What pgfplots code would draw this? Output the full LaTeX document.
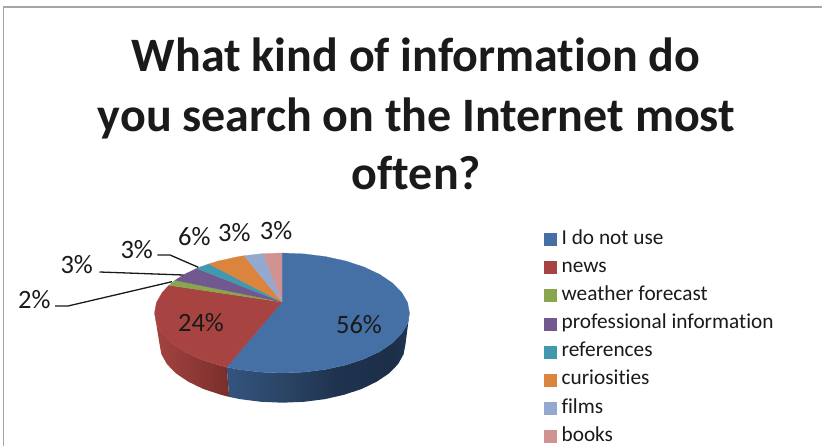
\documentclass[border=0pt]{standalone}
\usepackage{fontspec}
\setmainfont[Ligatures=NoCommon]{Carlito}
\usepackage{pgfplots}
\pgfplotsset{compat=1.18}

\definecolor{cBlue}{HTML}{4570A6}
\definecolor{cRed}{HTML}{A74441}
\definecolor{cGreen}{HTML}{89A54E}
\definecolor{cPurple}{HTML}{71588F}
\definecolor{cTeal}{HTML}{4198AF}
\definecolor{cOrange}{HTML}{DB843D}
\definecolor{cFilms}{HTML}{93A9CF}
\definecolor{cBooks}{HTML}{D19392}
\definecolor{frameGray}{HTML}{A6A6A6}
\definecolor{inkBlack}{HTML}{1A1A1A}
\definecolor{bw1}{HTML}{34547F}
\definecolor{bw2}{HTML}{28415F}
\definecolor{bw3}{HTML}{1F3350}
\definecolor{bw4}{HTML}{1C2E48}
\definecolor{bw5}{HTML}{203552}
\definecolor{rw1}{HTML}{A44340}
\definecolor{rw2}{HTML}{8F3936}
\definecolor{rw3}{HTML}{782E2C}

% side walls of the 3D pie
\pgfdeclarehorizontalshading{blueWall}{100bp}{
  color(0bp)=(bw1);
  color(25bp)=(bw1);
  color(44bp)=(bw2);
  color(55bp)=(bw3);
  color(70bp)=(bw4);
  color(75bp)=(bw5);
  color(100bp)=(bw5)}
\pgfdeclarehorizontalshading{redWall}{100bp}{
  color(0bp)=(rw1);
  color(25bp)=(rw1);
  color(50bp)=(rw2);
  color(75bp)=(rw3);
  color(100bp)=(rw3)}

\newcommand{\pct}[1]{\fontsize{26.5}{30}\selectfont #1}

\begin{document}
\begin{tikzpicture}
\path[use as bounding box] (0,0) rectangle (822pt,446pt);
\begin{axis}[
  scale only axis, width=822pt, height=446pt,
  at={(0,0)}, anchor=south west,
  xmin=0, xmax=822, ymin=0, ymax=446, y dir=reverse,
  hide axis, clip=false,
  legend cell align=left,
  legend image code/.code={\fill[#1] (0pt,-6pt) rectangle (12pt,6pt);},
  legend style={
    at={(axis cs:544,228)}, anchor=north west, draw=none, fill=none,
    font=\fontsize{21.3}{25}\selectfont, text=inkBlack,
    row sep=6.15pt, column sep=2.2pt, inner sep=0pt,
    nodes={text height=14pt, text depth=4pt, inner sep=2pt, inner xsep=3pt},
  },
]
% chart frame
\addplot[frameGray, line width=1.4pt, forget plot] coordinates {(3.5,446) (3.5,7) (822,7)};

% pie walls
\addplot[shading=blueWall, draw=none, forget plot] coordinates {
  (226.7,367.1) (238.4,369.4) (259.9,372.1) (282,373) (304.1,372.1) (325.6,369.4)
  (345.75,365) (364,359) (379.7,351.6) (392.4,343) (401.8,333.5) (407.6,323.4) (409.5,313)
  (405.5,344) (403.6,354.2) (398.1,364.1) (389,373.4) (376.7,381.7) (361.6,389) (344,394.8)
  (324.6,399.2) (303.9,401.8) (282.5,402.7) (261.1,401.8) (240.4,399.2) (229.2,396.9)};
\addplot[shading=redWall, draw=none, forget plot] coordinates {
  (154.5,313) (156.4,323.4) (162.2,333.5) (171.6,343) (184.3,351.6) (200,359) (218.25,365) (226.7,367.1)
  (229.2,396.9) (221,394.8) (203.4,389) (188.3,381.7) (176,373.4) (166.9,364.1) (161.4,354.2) (159.5,344)};

% pie slices
\addplot[fill=cBlue, draw=cBlue, line width=0.2pt] coordinates {
  (282,302) (282,253) (304.1,253.9) (325.6,256.6) (345.75,261) (364,267) (379.7,274.4)
  (392.4,283) (401.8,292.5) (407.6,302.6) (409.5,313) (407.6,323.4) (401.8,333.5)
  (392.4,343) (379.7,351.6) (364,359) (345.75,365) (325.6,369.4) (304.1,372.1) (282,373)
  (259.9,372.1) (238.4,369.4) (226.7,367.1) (282,302)};
\addlegendentry{I do not use}
\addplot[fill=cRed, draw=cRed, line width=0.2pt] coordinates {
  (282,302) (226.7,367.1) (218.25,365) (200,359) (184.3,351.6) (171.6,343) (162.2,333.5)
  (156.4,323.4) (154.5,313) (156.4,302.6) (162.2,292.5) (168.9,285.3) (282,302)};
\addlegendentry{news}
\addplot[fill=cGreen, draw=cGreen, line width=0.2pt] coordinates {
  (282,302) (168.9,285.3) (175,280.3) (282,302)};
\addlegendentry{weather forecast}
\addplot[fill=cPurple, draw=cPurple, line width=0.2pt] coordinates {
  (282,302) (175,280.3) (184.3,274.4) (196.7,268.4) (282,302)};
\addlegendentry{professional information}
\addplot[fill=cTeal, draw=cTeal, line width=0.2pt] coordinates {
  (282,302) (196.7,268.4) (200,267) (209,263.9) (282,302)};
\addlegendentry{references}
\addplot[fill=cOrange, draw=cOrange, line width=0.2pt] coordinates {
  (282,302) (209,263.9) (218.25,261) (238.4,256.6) (244.1,255.7) (282,302)};
\addlegendentry{curiosities}
\addplot[fill=cFilms, draw=cFilms, line width=0.2pt] coordinates {
  (282,302) (244.1,255.7) (259.9,253.9) (263.4,253.6) (282,302)};
\addlegendentry{films}
\addplot[fill=cBooks, draw=cBooks, line width=0.2pt] coordinates {
  (282,302) (263.4,253.6) (282,253) (282,302)};
\addlegendentry{books}

% leader lines
\addplot[inkBlack, line width=1.3pt, forget plot] coordinates {(55,306) (68,306) (172,281.7)};
\addplot[inkBlack, line width=1.3pt, forget plot] coordinates {(99.5,272) (183.3,275)};
\addplot[inkBlack, line width=1.3pt, forget plot] coordinates {(157.3,255) (170,255) (198.3,267.3)};

% percentage labels
\node[text=inkBlack] at (axis cs:359,325) {\pct{56\%}};
\node[text=inkBlack] at (axis cs:201,322.7) {\pct{24\%}};
\node[text=inkBlack] at (axis cs:34.3,299.3) {\pct{2\%}};
\node[text=inkBlack] at (axis cs:76.7,265) {\pct{3\%}};
\node[text=inkBlack] at (axis cs:136.7,249.3) {\pct{3\%}};
\node[text=inkBlack] at (axis cs:194.3,236.7) {\pct{6\%}};
\node[text=inkBlack] at (axis cs:234.3,232.7) {\pct{3\%}};
\node[text=inkBlack] at (axis cs:276,230.7) {\pct{3\%}};

% title
\node[anchor=base, text=inkBlack, font=\fontsize{48}{58.7}\selectfont\bfseries] at (axis cs:416,72) {What kind of information do};
\node[anchor=base, text=inkBlack, font=\fontsize{48}{58.7}\selectfont\bfseries] at (axis cs:416.5,131.7) {you search on the Internet most};
\node[anchor=base, text=inkBlack, font=\fontsize{48}{58.7}\selectfont\bfseries] at (axis cs:416.5,190) {often?};
\end{axis}
\end{tikzpicture}
\end{document}
